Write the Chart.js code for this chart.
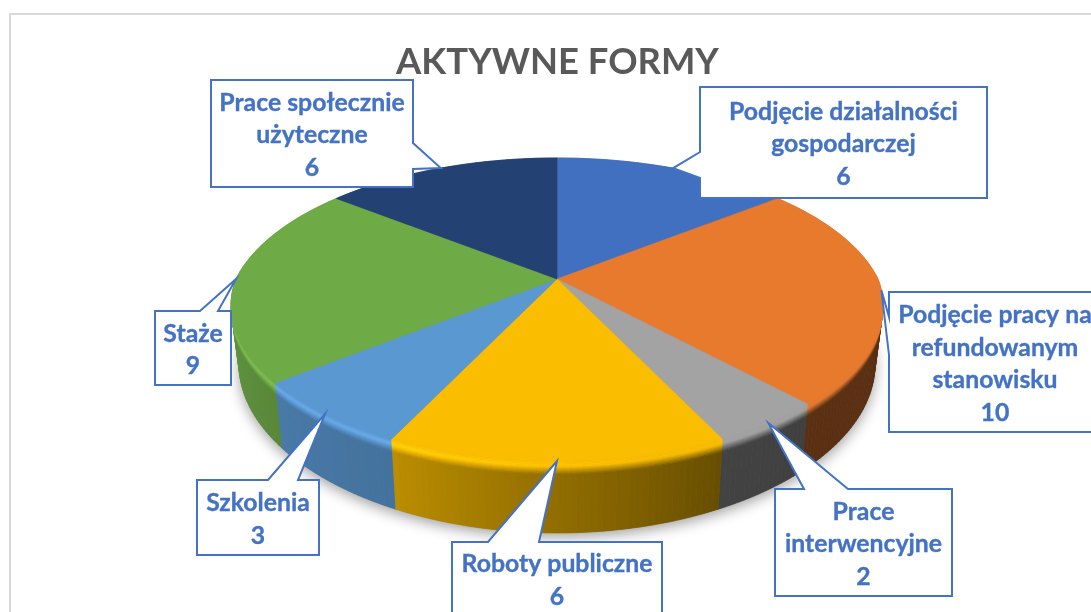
<!DOCTYPE html>
<html lang="pl">
<head>
<meta charset="utf-8">
<title>Aktywne formy</title>
<script src="https://cdn.jsdelivr.net/npm/chart.js@4"></script>
<style>
    html, body { margin: 0; padding: 0; background: #fff; overflow: hidden; }
    canvas { display: block; }
</style>
</head>
<body>
<canvas id="pie" width="1091" height="612"></canvas>
<script>
const chartTitle = 'AKTYWNE FORMY';
const categories = [
    'Podjęcie działalności gospodarczej',
    'Podjęcie pracy na refundowanym stanowisku',
    'Prace interwencyjne',
    'Roboty publiczne',
    'Szkolenia',
    'Staże',
    'Prace społecznie użyteczne'
];
const values = [6, 10, 2, 6, 3, 9, 6];
const sliceColors = ['#4270C0', '#E87A2E', '#A3A3A3', '#FBBD00', '#5A98D2', '#6EAA46', '#244173'];

// how the category names wrap inside the callouts
const labelLines = [
    ['Podjęcie działalności', 'gospodarczej'],
    ['Podjęcie pracy na', 'refundowanym', 'stanowisku'],
    ['Prace', 'interwencyjne'],
    ['Roboty publiczne'],
    ['Szkolenia'],
    ['Staże'],
    ['Prace społecznie', 'użyteczne']
];

// callout boxes: left, top, right, bottom, side of the wedge, wedge start, wedge end
const calloutBoxes = [
    [700, 87, 987, 198, 'left', 152, 178],
    [889, 292, 1101, 432, 'left', 317, 355],
    [775, 489, 952, 596, 'top', 804, 848],
    [452, 542, 662, 615, 'top', 488, 539],
    [197, 480, 319, 555, 'top', 268, 298],
    [155, 311, 231, 385, 'top', 200, 218],
    [211, 80, 413, 187, 'right', 143, 169]
];

// tilted disc, perspective
const cx = 557, cy = 279, radius = 321;
const depthY = 145.4, persp = 0.2013, perspXFront = 0.175, perspXBack = 0.22, wallH = 57.5, wallShrink = 0.025;

// side wall brightness against the clockwise angle from the top of the pie
const shadeAngles = [0, 90, 137, 154, 180, 206, 231, 270, 360];
const shadeLevels = [0.4, 0.38, 0.39, 0.41, 0.58, 0.75, 0.8, 0.9, 0.9];
const bevelSteps = [0, 0.02, 0.04, 0.06, 0.08, 0.1, 0.12, 0.14, 0.16, 0.18, 1];
const bevelEnd = 0.18;

function project(a, h, r) {
    const u = Math.cos(a) * r, v = Math.sin(a) * r;
    const s = 1 / (1 - persp * v);
    const sx = 1 / (1 - (v < 0 ? perspXBack : perspXFront) * v);
    const k = 1 - wallShrink * h;
    return [cx + radius * u * sx * k, cy + (depthY * v + wallH * h) * s];
}

function hexToRgb(hex) {
    return [1, 3, 5].map(i => parseInt(hex.substr(i, 2), 16));
}

function wallShade(deg) {
    for (let i = 1; i < shadeAngles.length; i++) {
        if (deg <= shadeAngles[i]) {
            const t = (deg - shadeAngles[i - 1]) / (shadeAngles[i] - shadeAngles[i - 1]);
            return shadeLevels[i - 1] + t * (shadeLevels[i] - shadeLevels[i - 1]);
        }
    }
    return shadeLevels[shadeLevels.length - 1];
}

function wallColor(rgb, deg, h) {
    const wall = wallShade(deg);
    // highlight on the rim only on the lit side, fades out towards the front
    const lit = Math.max(0, Math.min(1, (deg - 165) / 40));
    const rim = 1 + 0.14 * lit;
    const t = Math.min(h / bevelEnd, 1);
    let k;
    if (t < 0.35) {
        k = 1 + (rim - 1) * (t / 0.35);
    } else {
        k = rim + (wall - rim) * ((t - 0.35) / 0.65);
    }
    return 'rgb(' + rgb.map(c => Math.min(255, Math.round(c * k))).join(',') + ')';
}

function drawShadow(ctx) {
    ctx.save();
    ctx.shadowColor = 'rgba(0,0,0,0.38)';
    ctx.shadowBlur = 14;
    ctx.shadowOffsetY = 4;
    ctx.fillStyle = '#888';
    ctx.beginPath();
    for (let d = 0; d < 360; d += 2) {
        const p = project(d * Math.PI / 180, 1, 1);
        ctx.lineTo(p[0], p[1]);
    }
    ctx.closePath();
    ctx.fill();
    ctx.restore();
}

function drawWalls(ctx, arcs) {
    const strips = [];
    arcs.forEach(el => {
        const rgb = hexToRgb(el.options.backgroundColor);
        const n = Math.max(2, Math.ceil((el.endAngle - el.startAngle) * 180 / Math.PI));
        for (let i = 0; i < n; i++) {
            const a0 = el.startAngle + (el.endAngle - el.startAngle) * i / n;
            const a1 = el.startAngle + (el.endAngle - el.startAngle) * (i + 1) / n;
            strips.push({ a0, a1, rgb });
        }
    });
    strips.sort((p, q) => Math.sin(p.a0) - Math.sin(q.a0));
    strips.forEach(s => {
        const deg = ((s.a0 + s.a1) / 2 + Math.PI / 2) * 180 / Math.PI;
        // wide step first so the thin bevel steps sit on top of it
        for (let j = bevelSteps.length - 2; j >= 0; j--) {
            const h0 = bevelSteps[j], h1 = bevelSteps[j + 1];
            const p = [project(s.a0, h0, 1), project(s.a1, h0, 1), project(s.a1, h1, 1), project(s.a0, h1, 1)];
            const col = wallColor(s.rgb, deg, (h0 + h1) / 2);
            ctx.fillStyle = col;
            ctx.strokeStyle = col;
            ctx.lineWidth = 0.6;
            ctx.beginPath();
            p.forEach(q => ctx.lineTo(q[0], q[1]));
            ctx.closePath();
            ctx.fill();
            ctx.stroke();
        }
    });
}

function drawTops(ctx, arcs) {
    arcs.forEach(el => {
        const col = el.options.backgroundColor;
        ctx.fillStyle = col;
        ctx.strokeStyle = col;
        ctx.lineWidth = 0.6;
        ctx.beginPath();
        ctx.moveTo(cx, cy);
        const n = Math.max(2, Math.ceil((el.endAngle - el.startAngle) * 180 / Math.PI));
        for (let i = 0; i <= n; i++) {
            const p = project(el.startAngle + (el.endAngle - el.startAngle) * i / n, 0, 1);
            ctx.lineTo(p[0], p[1]);
        }
        ctx.closePath();
        ctx.fill();
        ctx.stroke();
    });
}

function drawCallout(ctx, box, tip, lines) {
    const [l, t, r, b, side, w0, w1] = box;
    ctx.beginPath();
    ctx.moveTo(l, t);
    if (side === 'top') {
        ctx.lineTo(w0, t); ctx.lineTo(tip[0], tip[1]); ctx.lineTo(w1, t);
    }
    ctx.lineTo(r, t);
    if (side === 'right') {
        ctx.lineTo(r, w0); ctx.lineTo(tip[0], tip[1]); ctx.lineTo(r, w1);
    }
    ctx.lineTo(r, b);
    ctx.lineTo(l, b);
    if (side === 'left') {
        ctx.lineTo(l, w1); ctx.lineTo(tip[0], tip[1]); ctx.lineTo(l, w0);
    }
    ctx.closePath();
    ctx.fillStyle = '#fff';
    ctx.fill();
    ctx.strokeStyle = '#4472C4';
    ctx.lineWidth = 2;
    ctx.lineJoin = 'miter';
    ctx.stroke();

    ctx.fillStyle = '#4472C4';
    ctx.font = 'bold 24.8px Lato';
    ctx.textAlign = 'center';
    ctx.textBaseline = 'middle';
    ctx.lineWidth = 0.35;
    const lineH = 32.6;
    const midY = (t + b) / 2 + 2;
    lines.forEach((txt, i) => {
        const y = midY + (i - (lines.length - 1) / 2) * lineH;
        ctx.fillText(txt, (l + r) / 2, y);
        ctx.strokeText(txt, (l + r) / 2, y);
    });
}

const pie3d = {
    id: 'pie3d',
    beforeDraw(chart) {
        const ctx = chart.ctx;
        ctx.save();
        ctx.strokeStyle = '#D9D9D9';
        ctx.lineWidth = 2;
        ctx.strokeRect(10, 14, 1300, 800);
        ctx.restore();
    },
    beforeDatasetDraw(chart, args) {
        const ctx = chart.ctx;
        const arcs = args.meta.data;
        ctx.save();
        drawShadow(ctx);
        drawWalls(ctx, arcs);
        drawTops(ctx, arcs);
        ctx.restore();
        return false;
    },
    afterDatasetsDraw(chart) {
        const ctx = chart.ctx;
        const arcs = chart.getDatasetMeta(0).data;
        ctx.save();
        arcs.forEach((el, i) => {
            const tip = project((el.startAngle + el.endAngle) / 2, 0, 1);
            drawCallout(ctx, calloutBoxes[i], tip, labelLines[i].concat(String(values[i])));
        });
        ctx.restore();
    }
};

new Chart(document.getElementById('pie'), {
    type: 'pie',
    data: {
        labels: categories,
        datasets: [{
            data: values,
            backgroundColor: sliceColors,
            borderWidth: 0
        }]
    },
    options: {
        responsive: false,
        animation: false,
        layout: { padding: { left: 24 } },
        plugins: {
            legend: { display: false },
            tooltip: { enabled: false },
            title: {
                display: true,
                text: chartTitle,
                color: '#595959',
                font: { family: 'Lato', size: 36.4, weight: 'bold', lineHeight: 1.2 },
                padding: { top: 40, bottom: 10 }
            }
        }
    },
    plugins: [pie3d]
});
</script>
</body>
</html>
